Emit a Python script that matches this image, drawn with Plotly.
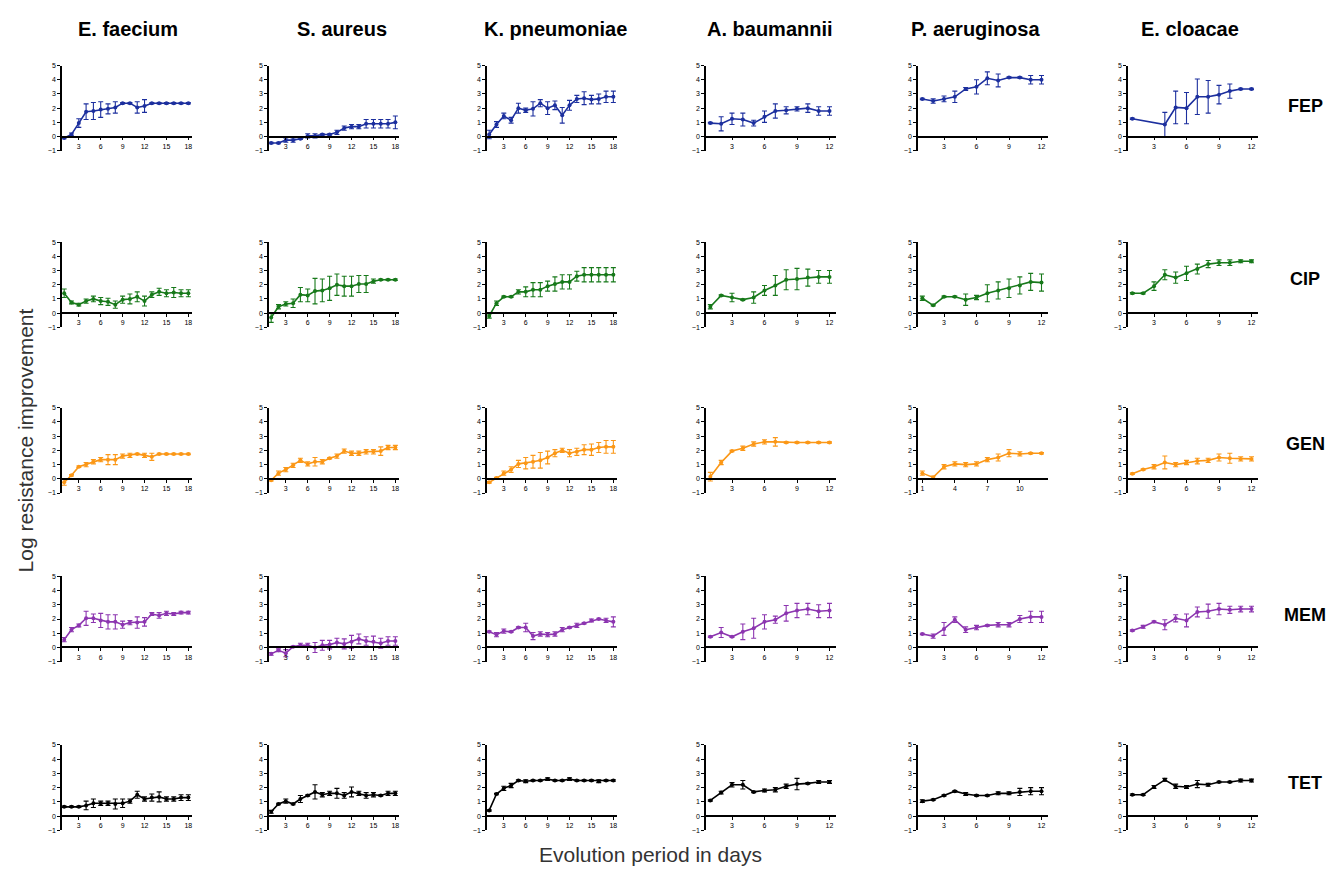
import plotly.graph_objects as go

W, H = 1335, 870

species = ["E. faecium", "S. aureus", "K. pneumoniae", "A. baumannii", "P. aeruginosa", "E. cloacae"]
drugs = ["FEP", "CIP", "GEN", "MEM", "TET"]
drug_colors = ["#1c2f9e", "#17791a", "#fb9716", "#8c35b0", "#000000"]

days18 = list(range(1, 19))
days12 = list(range(1, 13))
days_ecl_fep = [1, 4, 5, 6, 7, 8, 9, 10, 11, 12]

ticks18 = [3, 6, 9, 12, 15, 18]
ticks12 = [3, 6, 9, 12]
ticks_pae_gen = [1, 4, 7, 10]

# ---------- FEP ----------
efa_fep = [-0.1, 0.15, 0.95, 1.75, 1.8, 1.9, 1.95, 2.05, 2.35, 2.35, 2.05, 2.15, 2.35, 2.35, 2.35, 2.35, 2.35, 2.35]
efa_fep_err = [0.05, 0.1, 0.3, 0.55, 0.6, 0.55, 0.35, 0.4, 0.05, 0.05, 0.4, 0.45, 0.05, 0.05, 0.05, 0.05, 0.05, 0.05]
sau_fep = [-0.45, -0.45, -0.25, -0.25, -0.15, 0.05, 0.05, 0.15, 0.15, 0.3, 0.6, 0.7, 0.7, 0.9, 0.9, 0.9, 0.9, 1.0]
sau_fep_err = [0.05, 0.05, 0.15, 0.15, 0.05, 0.15, 0.15, 0.05, 0.05, 0.15, 0.15, 0.15, 0.15, 0.3, 0.3, 0.3, 0.3, 0.45]
kpn_fep = [0.15, 0.85, 1.45, 1.15, 2.0, 1.85, 1.95, 2.35, 2.0, 2.2, 1.5, 2.2, 2.65, 2.7, 2.6, 2.65, 2.8, 2.8]
kpn_fep_err = [0.3, 0.2, 0.2, 0.2, 0.35, 0.15, 0.5, 0.25, 0.45, 0.3, 0.55, 0.35, 0.25, 0.45, 0.3, 0.35, 0.4, 0.4]
aba_fep = [0.95, 0.9, 1.25, 1.2, 0.95, 1.4, 1.8, 1.85, 1.95, 2.0, 1.8, 1.8]
aba_fep_err = [0.05, 0.5, 0.4, 0.45, 0.2, 0.4, 0.5, 0.25, 0.15, 0.3, 0.3, 0.3]
pae_fep = [2.65, 2.5, 2.65, 2.8, 3.35, 3.5, 4.1, 3.95, 4.15, 4.15, 4.0, 4.0]
pae_fep_err = [0.05, 0.15, 0.2, 0.4, 0.1, 0.5, 0.45, 0.45, 0.05, 0.05, 0.3, 0.3]
ecl_fep = [1.25, 0.85, 2.05, 2.0, 2.8, 2.8, 2.95, 3.2, 3.35, 3.35]
ecl_fep_err = [0.05, 0.85, 1.15, 1.1, 1.25, 1.15, 0.65, 0.5, 0.05, 0.05]

# ---------- CIP ----------
efa_cip = [1.4, 0.75, 0.6, 0.85, 1.0, 0.85, 0.8, 0.6, 0.95, 1.0, 1.15, 0.85, 1.3, 1.5, 1.4, 1.45, 1.4, 1.4]
efa_cip_err = [0.3, 0.1, 0.1, 0.15, 0.2, 0.25, 0.25, 0.25, 0.25, 0.35, 0.35, 0.35, 0.2, 0.25, 0.25, 0.35, 0.25, 0.25]
sau_cip = [-0.3, 0.45, 0.65, 0.7, 1.3, 1.25, 1.55, 1.6, 1.75, 2.0, 1.9, 1.9, 2.05, 2.05, 2.25, 2.35, 2.35, 2.35]
sau_cip_err = [0.35, 0.15, 0.15, 0.3, 0.5, 0.45, 0.9, 0.8, 0.85, 0.75, 0.7, 0.7, 0.6, 0.6, 0.15, 0.05, 0.05, 0.05]
kpn_cip = [-0.2, 0.7, 1.15, 1.15, 1.5, 1.5, 1.65, 1.65, 1.9, 2.05, 2.2, 2.2, 2.6, 2.7, 2.7, 2.7, 2.7, 2.7]
kpn_cip_err = [0.15, 0.15, 0.05, 0.05, 0.15, 0.35, 0.5, 0.5, 0.35, 0.5, 0.5, 0.5, 0.35, 0.5, 0.5, 0.5, 0.5, 0.5]
aba_cip = [0.45, 1.25, 1.1, 0.95, 1.1, 1.6, 1.95, 2.35, 2.4, 2.5, 2.55, 2.55]
aba_cip_err = [0.15, 0.05, 0.3, 0.05, 0.4, 0.35, 0.7, 0.7, 0.75, 0.6, 0.45, 0.45]
pae_cip = [1.05, 0.55, 1.15, 1.15, 0.95, 1.1, 1.4, 1.6, 1.75, 1.95, 2.2, 2.15]
pae_cip_err = [0.15, 0.05, 0.05, 0.05, 0.4, 0.15, 0.6, 0.6, 0.65, 0.6, 0.6, 0.6]
ecl_cip = [1.4, 1.4, 1.9, 2.7, 2.5, 2.8, 3.1, 3.45, 3.55, 3.55, 3.65, 3.65]
ecl_cip_err = [0.05, 0.05, 0.3, 0.35, 0.4, 0.5, 0.35, 0.25, 0.2, 0.2, 0.1, 0.1]

# ---------- GEN ----------
efa_gen = [-0.25, 0.25, 0.85, 1.0, 1.2, 1.35, 1.35, 1.35, 1.6, 1.65, 1.75, 1.65, 1.55, 1.75, 1.75, 1.75, 1.75, 1.75]
efa_gen_err = [0.2, 0.05, 0.05, 0.15, 0.15, 0.15, 0.35, 0.35, 0.15, 0.15, 0.05, 0.15, 0.25, 0.05, 0.05, 0.05, 0.05, 0.05]
sau_gen = [-0.1, 0.4, 0.65, 0.95, 1.3, 1.05, 1.2, 1.2, 1.45, 1.6, 1.95, 1.8, 1.8, 1.9, 1.9, 1.95, 2.2, 2.2]
sau_gen_err = [0.05, 0.15, 0.15, 0.15, 0.15, 0.15, 0.3, 0.15, 0.05, 0.15, 0.15, 0.15, 0.15, 0.15, 0.15, 0.3, 0.15, 0.15]
kpn_gen = [-0.25, 0.05, 0.4, 0.65, 1.05, 1.1, 1.2, 1.3, 1.5, 1.8, 2.0, 1.8, 1.9, 2.05, 2.05, 2.2, 2.25, 2.25]
kpn_gen_err = [0.05, 0.05, 0.15, 0.2, 0.25, 0.4, 0.45, 0.55, 0.45, 0.25, 0.15, 0.25, 0.25, 0.35, 0.4, 0.35, 0.45, 0.45]
aba_gen = [0.15, 1.15, 1.95, 2.15, 2.45, 2.6, 2.6, 2.55, 2.55, 2.55, 2.55, 2.55]
aba_gen_err = [0.3, 0.15, 0.05, 0.15, 0.15, 0.15, 0.3, 0.05, 0.05, 0.05, 0.05, 0.05]
pae_gen = [0.4, 0.1, 0.85, 1.05, 1.0, 1.05, 1.35, 1.5, 1.8, 1.75, 1.8, 1.8]
pae_gen_err = [0.15, 0.1, 0.15, 0.15, 0.15, 0.15, 0.15, 0.25, 0.25, 0.15, 0.05, 0.05]
ecl_gen = [0.35, 0.65, 0.85, 1.15, 1.0, 1.15, 1.25, 1.3, 1.5, 1.45, 1.4, 1.4]
ecl_gen_err = [0.05, 0.05, 0.15, 0.45, 0.15, 0.15, 0.2, 0.15, 0.25, 0.35, 0.15, 0.15]

# ---------- MEM ----------
efa_mem = [0.55, 1.25, 1.55, 2.05, 2.05, 1.9, 1.8, 1.8, 1.6, 1.75, 1.75, 1.8, 2.35, 2.25, 2.4, 2.35, 2.45, 2.45]
efa_mem_err = [0.15, 0.15, 0.1, 0.5, 0.3, 0.5, 0.5, 0.5, 0.25, 0.15, 0.4, 0.3, 0.1, 0.2, 0.15, 0.1, 0.1, 0.1]
sau_mem = [-0.45, -0.2, -0.4, 0.05, 0.15, 0.15, 0.0, 0.15, 0.2, 0.35, 0.25, 0.4, 0.6, 0.45, 0.4, 0.3, 0.45, 0.45]
sau_mem_err = [0.1, 0.1, 0.25, 0.05, 0.15, 0.15, 0.35, 0.35, 0.3, 0.3, 0.35, 0.45, 0.35, 0.3, 0.4, 0.35, 0.3, 0.3]
kpn_mem = [1.1, 0.9, 1.15, 1.1, 1.4, 1.4, 0.8, 0.95, 0.9, 0.95, 1.25, 1.4, 1.55, 1.7, 1.9, 2.0, 1.9, 1.8]
kpn_mem_err = [0.05, 0.15, 0.15, 0.05, 0.05, 0.3, 0.25, 0.15, 0.15, 0.15, 0.15, 0.05, 0.15, 0.05, 0.1, 0.05, 0.15, 0.35]
aba_mem = [0.75, 1.05, 0.75, 1.1, 1.35, 1.8, 1.95, 2.4, 2.6, 2.7, 2.55, 2.6]
aba_mem_err = [0.05, 0.35, 0.05, 0.55, 0.7, 0.5, 0.25, 0.55, 0.5, 0.4, 0.45, 0.5]
pae_mem = [0.95, 0.8, 1.3, 1.95, 1.25, 1.4, 1.55, 1.6, 1.6, 2.0, 2.15, 2.15]
pae_mem_err = [0.05, 0.15, 0.45, 0.2, 0.2, 0.15, 0.05, 0.15, 0.15, 0.25, 0.4, 0.4]
ecl_mem = [1.2, 1.45, 1.8, 1.6, 2.05, 1.9, 2.5, 2.55, 2.7, 2.65, 2.7, 2.7]
ecl_mem_err = [0.05, 0.1, 0.05, 0.35, 0.25, 0.45, 0.35, 0.5, 0.4, 0.25, 0.2, 0.2]

# ---------- TET ----------
efa_tet = [0.65, 0.65, 0.65, 0.75, 0.9, 0.9, 0.9, 0.85, 0.9, 1.05, 1.5, 1.2, 1.3, 1.35, 1.2, 1.2, 1.3, 1.3]
efa_tet_err = [0.05, 0.05, 0.05, 0.3, 0.3, 0.15, 0.15, 0.35, 0.3, 0.15, 0.25, 0.15, 0.25, 0.35, 0.15, 0.15, 0.2, 0.2]
sau_tet = [0.3, 0.85, 1.05, 0.85, 1.2, 1.45, 1.7, 1.5, 1.6, 1.6, 1.45, 1.7, 1.6, 1.45, 1.5, 1.45, 1.6, 1.6]
sau_tet_err = [0.1, 0.05, 0.15, 0.05, 0.25, 0.05, 0.5, 0.15, 0.15, 0.35, 0.2, 0.35, 0.15, 0.2, 0.15, 0.05, 0.15, 0.15]
kpn_tet = [0.4, 1.55, 1.95, 2.15, 2.5, 2.45, 2.5, 2.5, 2.6, 2.5, 2.5, 2.6, 2.5, 2.5, 2.5, 2.45, 2.5, 2.5]
kpn_tet_err = [0.05, 0.05, 0.15, 0.15, 0.05, 0.1, 0.05, 0.05, 0.1, 0.05, 0.05, 0.1, 0.05, 0.05, 0.05, 0.1, 0.05, 0.05]
aba_tet = [1.1, 1.65, 2.2, 2.2, 1.7, 1.8, 1.85, 2.1, 2.25, 2.3, 2.4, 2.4]
aba_tet_err = [0.05, 0.1, 0.15, 0.3, 0.05, 0.1, 0.15, 0.15, 0.4, 0.05, 0.1, 0.1]
pae_tet = [1.05, 1.15, 1.45, 1.75, 1.55, 1.45, 1.45, 1.6, 1.6, 1.7, 1.75, 1.75]
pae_tet_err = [0.1, 0.05, 0.05, 0.05, 0.1, 0.05, 0.05, 0.1, 0.1, 0.25, 0.25, 0.25]
ecl_tet = [1.5, 1.5, 2.05, 2.55, 2.1, 2.05, 2.25, 2.2, 2.4, 2.4, 2.5, 2.5]
ecl_tet_err = [0.05, 0.05, 0.1, 0.1, 0.15, 0.1, 0.25, 0.1, 0.05, 0.05, 0.1, 0.1]

panels = [
    [(days18, efa_fep, efa_fep_err, ticks18), (days18, sau_fep, sau_fep_err, ticks18), (days18, kpn_fep, kpn_fep_err, ticks18),
     (days12, aba_fep, aba_fep_err, ticks12), (days12, pae_fep, pae_fep_err, ticks12), (days_ecl_fep, ecl_fep, ecl_fep_err, ticks12)],
    [(days18, efa_cip, efa_cip_err, ticks18), (days18, sau_cip, sau_cip_err, ticks18), (days18, kpn_cip, kpn_cip_err, ticks18),
     (days12, aba_cip, aba_cip_err, ticks12), (days12, pae_cip, pae_cip_err, ticks12), (days12, ecl_cip, ecl_cip_err, ticks12)],
    [(days18, efa_gen, efa_gen_err, ticks18), (days18, sau_gen, sau_gen_err, ticks18), (days18, kpn_gen, kpn_gen_err, ticks18),
     (days12, aba_gen, aba_gen_err, ticks12), (days12, pae_gen, pae_gen_err, ticks_pae_gen), (days12, ecl_gen, ecl_gen_err, ticks12)],
    [(days18, efa_mem, efa_mem_err, ticks18), (days18, sau_mem, sau_mem_err, ticks18), (days18, kpn_mem, kpn_mem_err, ticks18),
     (days12, aba_mem, aba_mem_err, ticks12), (days12, pae_mem, pae_mem_err, ticks12), (days12, ecl_mem, ecl_mem_err, ticks12)],
    [(days18, efa_tet, efa_tet_err, ticks18), (days18, sau_tet, sau_tet_err, ticks18), (days18, kpn_tet, kpn_tet_err, ticks18),
     (days12, aba_tet, aba_tet_err, ticks12), (days12, pae_tet, pae_tet_err, ticks12), (days12, ecl_tet, ecl_tet_err, ticks12)],
]

# layout geometry (pixels)
col_left = [62, 269, 487, 706, 918, 1128]
plot_w = 130
row_top = [62, 240, 407, 577, 747]
plot_h = 86
col_title_x = [128, 342, 555, 770, 975, 1190]
row_label_y = [103, 277, 444, 616, 785]

FONT = "Arial, Liberation Sans, sans-serif"

fig = go.Figure()
layout = dict(
    width=W, height=H, margin=dict(l=0, r=0, t=0, b=0),
    paper_bgcolor="white", plot_bgcolor="white", showlegend=False,
    font=dict(family=FONT, color="black"),
)

n = 0
for r, row in enumerate(panels):
    for c, (xs, ys, es, tv) in enumerate(row):
        n += 1
        xa = "x" if n == 1 else f"x{n}"
        ya = "y" if n == 1 else f"y{n}"
        col = drug_colors[r]
        fig.add_trace(go.Scatter(
            x=xs, y=ys, mode="lines+markers", xaxis=xa, yaxis=ya,
            line=dict(color=col, width=1.6),
            marker=dict(color=col, size=4),
            error_y=dict(type="data", array=es, visible=True, color=col, thickness=1.1, width=2.5),
        ))
        x0 = col_left[c] / W
        x1 = (col_left[c] + plot_w) / W
        y1 = 1 - row_top[r] / H
        y0 = 1 - (row_top[r] + plot_h) / H
        xr = [0.7, 18.5] if xs is days18 else [0.6, 12.6]
        zero_pos = y0 + (y1 - y0) * (1 / 6)
        layout["xaxis" if n == 1 else f"xaxis{n}"] = dict(
            domain=[x0, x1], range=xr, anchor="free", position=zero_pos,
            showline=True, linecolor="black", linewidth=1.5,
            ticks="outside", ticklen=3, tickwidth=1, tickcolor="black",
            tickvals=tv, tickfont=dict(size=7, family=FONT),
            showgrid=False, zeroline=False,
        )
        layout["yaxis" if n == 1 else f"yaxis{n}"] = dict(
            domain=[y0, y1], range=[-1, 5], anchor=xa,
            showline=True, linecolor="black", linewidth=1.5,
            ticks="outside", ticklen=3, tickwidth=1, tickcolor="black",
            tickvals=[-1, 0, 1, 2, 3, 4, 5], tickfont=dict(size=7, family=FONT),
            showgrid=False, zeroline=False,
        )

annotations = []
for c, name in enumerate(species):
    annotations.append(dict(
        x=col_title_x[c] / W, y=1 - 25 / H, xref="paper", yref="paper",
        text=f"<b>{name}</b>", showarrow=False, font=dict(size=20, family=FONT, color="black"),
        xanchor="center", yanchor="middle"))
for r, d in enumerate(drugs):
    annotations.append(dict(
        x=1305 / W, y=1 - row_label_y[r] / H, xref="paper", yref="paper",
        text=f"<b>{d}</b>", showarrow=False, font=dict(size=18, family=FONT, color="black"),
        xanchor="center", yanchor="middle"))
annotations.append(dict(
    x=25 / W, y=1 - 440 / H, xref="paper", yref="paper", text="Log resistance improvement",
    textangle=-90, showarrow=False, font=dict(size=21, family=FONT, color="#333333"),
    xanchor="center", yanchor="middle"))
annotations.append(dict(
    x=650 / W, y=1 - 857 / H, xref="paper", yref="paper", text="Evolution period in days",
    showarrow=False, font=dict(size=21, family=FONT, color="#333333"),
    xanchor="center", yanchor="middle"))
layout["annotations"] = annotations

fig.update_layout(**layout)
fig.write_html("out.html", config={"displayModeBar": False})

# remove default page margins so the figure fills the window exactly
with open("out.html", "r", encoding="utf-8") as f:
    html = f.read()
html = html.replace("<head>", "<head><style>html,body{margin:0;padding:0;overflow:hidden;}</style>", 1)
with open("out.html", "w", encoding="utf-8") as f:
    f.write(html)
